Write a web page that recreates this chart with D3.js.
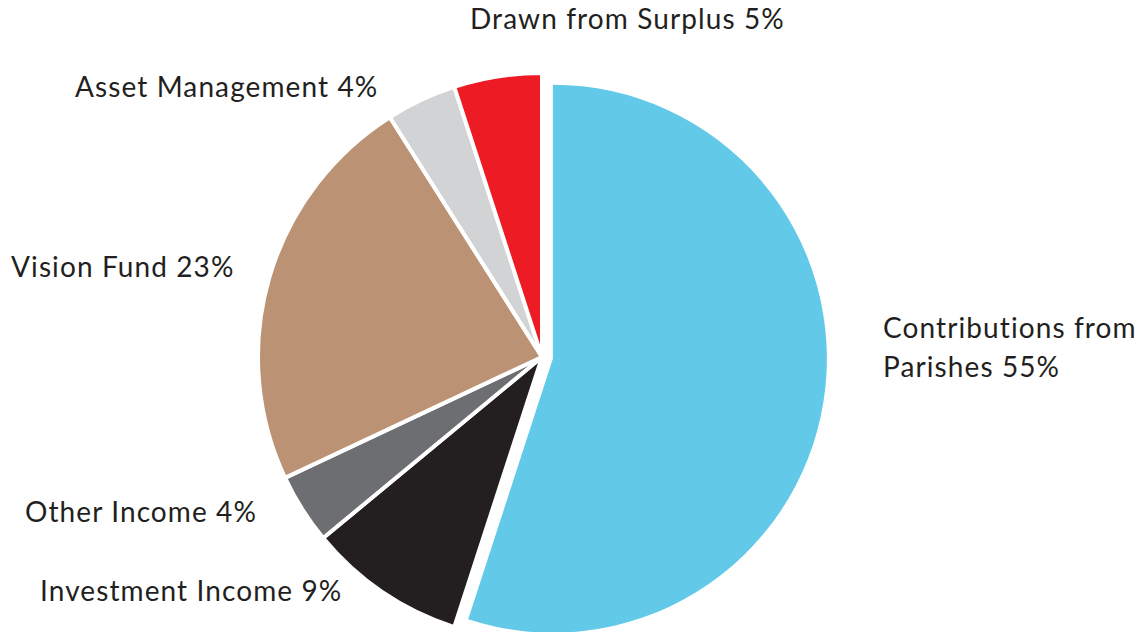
<!DOCTYPE html>
<html>
<head>
<meta charset="utf-8">
<script src="https://cdnjs.cloudflare.com/ajax/libs/d3/7.8.5/d3.min.js"></script>
<style>
    body{margin:0;background:#fff;}
    text{font-family:Lato,"Open Sans",sans-serif;fill:#231f20;}
</style>
</head>
<body>
<div class="chart"></div>
<script>
//画布大小
var width = 1146, height = 632;

// data, clockwise from 12 o'clock
var names = ['Contributions from Parishes', 'Investment Income', 'Other Income',
    'Vision Fund', 'Asset Management', 'Drawn from Surplus'];
var values = [55, 9, 4, 23, 4, 5];
var colors = ['#62c9e8', '#231f20', '#6d6e71', '#bb9374', '#d1d3d4', '#ed1c24'];

// label lines and where they sit (baseline)
var labelLines = [
    ['Contributions from', 'Parishes 55%'],
    ['Investment Income 9%'],
    ['Other Income 4%'],
    ['Vision Fund 23%'],
    ['Asset Management 4%'],
    ['Drawn from Surplus 5%']
];
var labelPos = [[883, 338], [40, 601], [25, 522], [11, 277], [75, 97], [470, 29]];

var cx = 542, cy = 357, r = 284;
var rBig = 274, explode = 11;

var svg = d3.select('.chart').append('svg')
    .attr('width', width)
    .attr('height', height);

var pie = d3.pie().sort(null).value(function (d) { return d; });
var arcs = pie(values);

var arc = d3.arc().innerRadius(0).outerRadius(r);
var arcBig = d3.arc().innerRadius(0).outerRadius(rBig);

var g = svg.append('g').attr('transform', 'translate(' + cx + ',' + cy + ')');

g.selectAll('.slice')
    .data(arcs)
    .enter()
    .append('path')
    .attr('class', 'slice')
    .attr('d', function (d, i) {
        return i === 0 ? arcBig(d) : arc(d);
    })
    .attr('transform', function (d, i) {
        if (i !== 0) return null;
        var a = (d.startAngle + d.endAngle) / 2;
        return 'translate(' + (Math.sin(a) * explode) + ',' + (-Math.cos(a) * explode) + ')';
    })
    .style('fill', function (d, i) { return colors[i]; })
    .style('stroke', function (d, i) { return i === 0 ? 'none' : '#fff'; })
    .style('stroke-width', 4)
    .style('stroke-linejoin', 'miter');

var labels = svg.selectAll('.lbl')
    .data(labelLines)
    .enter()
    .append('text')
    .attr('class', 'lbl')
    .attr('x', function (d, i) { return labelPos[i][0]; })
    .attr('y', function (d, i) { return labelPos[i][1]; })
    .style('font-size', '28px')
    .style('letter-spacing', '1.1px');

labels.selectAll('tspan')
    .data(function (d, i) {
        return d.map(function (t) { return {t: t, x: labelPos[i][0]}; });
    })
    .enter()
    .append('tspan')
    .attr('x', function (d) { return d.x; })
    .attr('dy', function (d, j) { return j === 0 ? 0 : 39; })
    .text(function (d) { return d.t; });
</script>
</body>
</html>
